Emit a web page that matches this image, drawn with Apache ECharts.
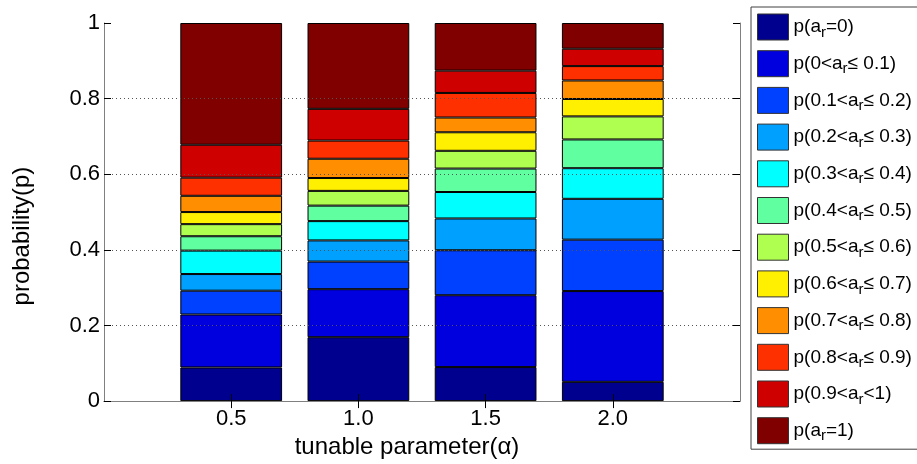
<!DOCTYPE html>
<html>
<head>
<meta charset="utf-8">
<script src="https://cdn.jsdelivr.net/npm/echarts@6/dist/echarts.min.js"></script>
<style>
  html, body { margin: 0; padding: 0; background: #fff; }
  #chart { width: 917px; height: 464px; }
</style>
</head>
<body>
<div id="chart"></div>
<script>
// Values of the tunable parameter (one stacked bar each)
const categories = ['0.5', '1.0', '1.5', '2.0'];

// Legend entries, from the lowest segment to the top one
const binNames = [
  'p(a_r=0)', 'p(0<a_r≤ 0.1)', 'p(0.1<a_r≤ 0.2)', 'p(0.2<a_r≤ 0.3)',
  'p(0.3<a_r≤ 0.4)', 'p(0.4<a_r≤ 0.5)', 'p(0.5<a_r≤ 0.6)', 'p(0.6<a_r≤ 0.7)',
  'p(0.7<a_r≤ 0.8)', 'p(0.8<a_r≤ 0.9)', 'p(0.9<a_r<1)', 'p(a_r=1)'
];

// Probability of each a_r bin, per parameter value
const pEq0      = [0.089, 0.169, 0.090, 0.051];
const p00to01   = [0.140, 0.127, 0.190, 0.240];
const p01to02   = [0.063, 0.073, 0.119, 0.136];
const p02to03   = [0.044, 0.056, 0.084, 0.108];
const p03to04   = [0.062, 0.051, 0.070, 0.081];
const p04to05   = [0.038, 0.041, 0.062, 0.076];
const p05to06   = [0.032, 0.039, 0.047, 0.061];
const p06to07   = [0.032, 0.034, 0.049, 0.046];
const p07to08   = [0.043, 0.051, 0.039, 0.049];
const p08to09   = [0.048, 0.048, 0.065, 0.038];
const p09to1    = [0.087, 0.084, 0.059, 0.046];
const pEq1      = [0.322, 0.227, 0.126, 0.068];

const binValues = [pEq0, p00to01, p01to02, p02to03, p03to04, p04to05,
                   p05to06, p06to07, p07to08, p08to09, p09to1, pEq1];

// jet-style colour ramp, dark blue to dark red
const binColors = ['#00008F', '#0000DF', '#0040FF', '#00A0FF', '#00FFFF', '#60FF9F',
                   '#AFFF50', '#FFEF00', '#FF8F00', '#FF3000', '#CF0000', '#800000'];

const FONT = '"Liberation Sans", Arial, Helvetica, sans-serif';

// The x axis runs from one empty slot before the first bar to one after the last
const axisSlots = [''].concat(categories, ['']);
const isBarSlot = idx => idx >= 1 && idx <= categories.length;

const series = binNames.map((name, k) => ({
  name: name,
  type: 'bar',
  stack: 'total',
  barWidth: '80%',
  itemStyle: { color: binColors[k], borderColor: '#000', borderWidth: 1 },
  data: binValues[k].map((v, i) => [i + 1, v])
}));

const chart = echarts.init(document.getElementById('chart'), null, { renderer: 'canvas' });

const xBase = {
  type: 'category',
  data: axisSlots,
  boundaryGap: false,
  z: 5,
  axisLine: { show: true, lineStyle: { color: '#808080', width: 1 } },
  axisTick: { show: true, inside: true, length: 7, interval: isBarSlot,
              lineStyle: { color: '#000', width: 1 } },
  splitLine: { show: false }
};

chart.setOption({
  animation: false,
  backgroundColor: '#fff',
  grid: { left: 104, right: 177, top: 23, bottom: 57, containLabel: false },
  xAxis: [
    Object.assign({}, xBase, {
      position: 'bottom',
      name: 'tunable parameter(α)',
      nameLocation: 'middle',
      nameGap: 28,
      nameTextStyle: { fontFamily: FONT, fontSize: 24, color: '#000', padding: [0, 30, 0, 0] },
      axisLabel: { interval: 0, fontFamily: FONT, fontSize: 22, color: '#000', margin: 7 }
    }),
    Object.assign({}, xBase, {
      position: 'top',
      axisLabel: { show: false }
    })
  ],
  yAxis: [
    {
      type: 'value', min: 0, max: 1, interval: 0.2, position: 'left', z: 5,
      name: 'probability(p)',
      nameLocation: 'middle',
      nameGap: 70,
      nameTextStyle: { fontFamily: FONT, fontSize: 24, color: '#000', padding: [0, 48, 0, 0] },
      axisLine: { show: true, lineStyle: { color: '#808080', width: 1 } },
      axisTick: { show: true, inside: true, length: 7, lineStyle: { color: '#000' } },
      axisLabel: { fontFamily: FONT, fontSize: 22, color: '#000', margin: 4 },
      splitLine: { show: true, showMinLine: false, showMaxLine: false,
                   lineStyle: { color: '#555', width: 1, type: [1, 3] } }
    },
    {
      type: 'value', min: 0, max: 1, interval: 0.2, position: 'right', z: 5,
      axisLine: { show: true, lineStyle: { color: '#808080', width: 1 } },
      axisTick: { show: true, inside: true, length: 7, lineStyle: { color: '#000' } },
      axisLabel: { show: false },
      splitLine: { show: false }
    }
  ],
  legend: {
    type: 'plain',
    orient: 'vertical',
    left: 751,
    top: 7,
    padding: [6, 40, 5, 6],
    itemWidth: 31,
    itemHeight: 26,
    itemGap: 9.2,
    icon: 'rect',
    selectedMode: false,
    backgroundColor: '#fff',
    borderColor: '#404040',
    borderWidth: 1,
    data: binNames,
    formatter: name => name.replace('a_r', 'a{sub|r}'),
    itemStyle: { borderColor: '#333', borderWidth: 1 },
    textStyle: {
      fontFamily: FONT, fontSize: 19, lineHeight: 26, color: '#000',
      rich: {
        sub: { fontFamily: FONT, fontSize: 15, lineHeight: 14, color: '#000',
               verticalAlign: 'bottom', padding: [12, 0, 0, 0] }
      }
    }
  },
  series: series
});
</script>
</body>
</html>
